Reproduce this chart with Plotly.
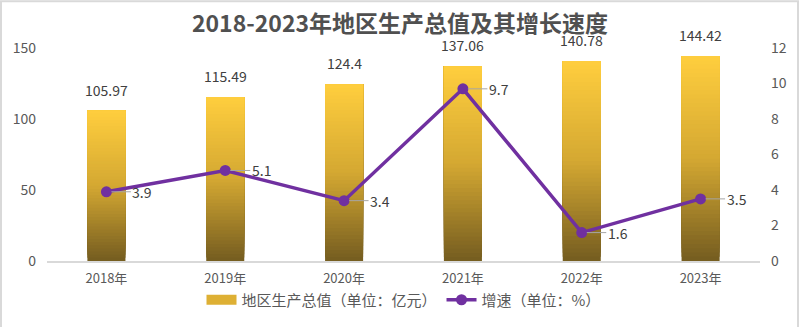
import plotly.graph_objects as go

years = ["2018年", "2019年", "2020年", "2021年", "2022年", "2023年"]
gdp = [105.97, 115.49, 124.4, 137.06, 140.78, 144.42]
growth = [3.9, 5.1, 3.4, 9.7, 1.6, 3.5]
gdp_name = "地区生产总值（单位：亿元）"
growth_name = "增速（单位：%）"
title_text = "2018-2023年地区生产总值及其增长速度"

FONT = "Noto Sans CJK SC, Noto Sans, sans-serif"
N = 48
stops = [(0.0, (116, 92, 32)), (0.5, (212, 168, 50)), (1.0, (255, 206, 62))]


def grad(t):
    for (t0, c0), (t1, c1) in zip(stops[:-1], stops[1:]):
        if t0 <= t <= t1:
            f = (t - t0) / (t1 - t0)
            return "rgb(%d,%d,%d)" % tuple(round(a + (b - a) * f) for a, b in zip(c0, c1))
    return "rgb(%d,%d,%d)" % stops[-1][1]


fig = go.Figure()
# gradient bars: each layer starts higher and reaches the bar top; later layers cover earlier ones
for i in range(N):
    t = (i + 0.5) / N
    fig.add_trace(go.Bar(
        x=years,
        y=[v * (1 - i / N) for v in gdp],
        base=[v * i / N for v in gdp],
        width=0.32,
        marker=dict(color=grad(t), line=dict(width=0)),
        name=gdp_name,
        showlegend=False,
        hoverinfo="skip",
    ))

# legend entry for the bars (wide gold swatch)
fig.add_trace(go.Scatter(x=[None], y=[None], mode="lines", name=gdp_name,
                         line=dict(color="rgb(222,176,52)", width=10)))

fig.add_trace(go.Scatter(
    x=years, y=growth, yaxis="y2", mode="lines+markers", name=growth_name,
    line=dict(color="#7030A0", width=3.5),
    marker=dict(color="#7030A0", size=11),
))

ann = []
for x, v in zip(years, gdp):
    ann.append(dict(x=x, y=v, xref="x", yref="y", text=f"{v:g}", showarrow=False,
                    yanchor="bottom", yshift=9, font=dict(size=14, color="#404040", family=FONT)))
for x, v in zip(years, growth):
    ann.append(dict(x=x, y=v, xref="x", yref="y2", text=f"{v:g}", showarrow=True,
                    arrowhead=0, arrowwidth=1, arrowcolor="#A6A6A6", ax=36, ay=0,
                    standoff=5, font=dict(size=14, color="#404040", family=FONT)))

ml, mr, mt, mb = 47, 40, 48, 65
W, H = 800, 327
pw, ph = W - ml - mr, H - mt - mb
fig.update_layout(
    width=W, height=H,
    margin=dict(l=ml, r=mr, t=mt, b=mb),
    paper_bgcolor="white", plot_bgcolor="white",
    barmode="overlay",
    font=dict(family=FONT, color="#595959", size=14),
    title=dict(text="<b>" + title_text + "</b>", x=0.5, xanchor="center", y=1 - 24 / H,
               yanchor="middle", font=dict(size=23, color="#505050", family=FONT)),
    xaxis=dict(type="category", showgrid=False, showline=True, linecolor="#D9D9D9", linewidth=1.5,
               ticks="", tickfont=dict(size=13, color="#595959"), ticklabelstandoff=5),
    yaxis=dict(range=[0, 150], dtick=50, showgrid=False, zeroline=False, showline=False,
               tickfont=dict(size=14, color="#595959"), ticklabelstandoff=10),
    yaxis2=dict(range=[0, 12], dtick=2, overlaying="y", side="right", showgrid=False,
                zeroline=False, showline=False, tickfont=dict(size=14, color="#595959"),
                ticklabelstandoff=10),
    legend=dict(orientation="h", x=0.5, xanchor="center", y=-(300 - (H - mb)) / ph,
                yanchor="middle", font=dict(size=15, color="#595959"), traceorder="normal",
                itemwidth=30, bgcolor="rgba(0,0,0,0)"),
    annotations=ann,
    shapes=[dict(type="rect", xref="paper", yref="paper",
                 x0=(1 - ml) / pw, x1=(W - 2 - ml) / pw,
                 y0=(mb - (H - 3)) / ph, y1=(H - 1 - mb) / ph,
                 line=dict(color="#D9D9D9", width=2), layer="below")],
)
fig.write_html("out.html")
